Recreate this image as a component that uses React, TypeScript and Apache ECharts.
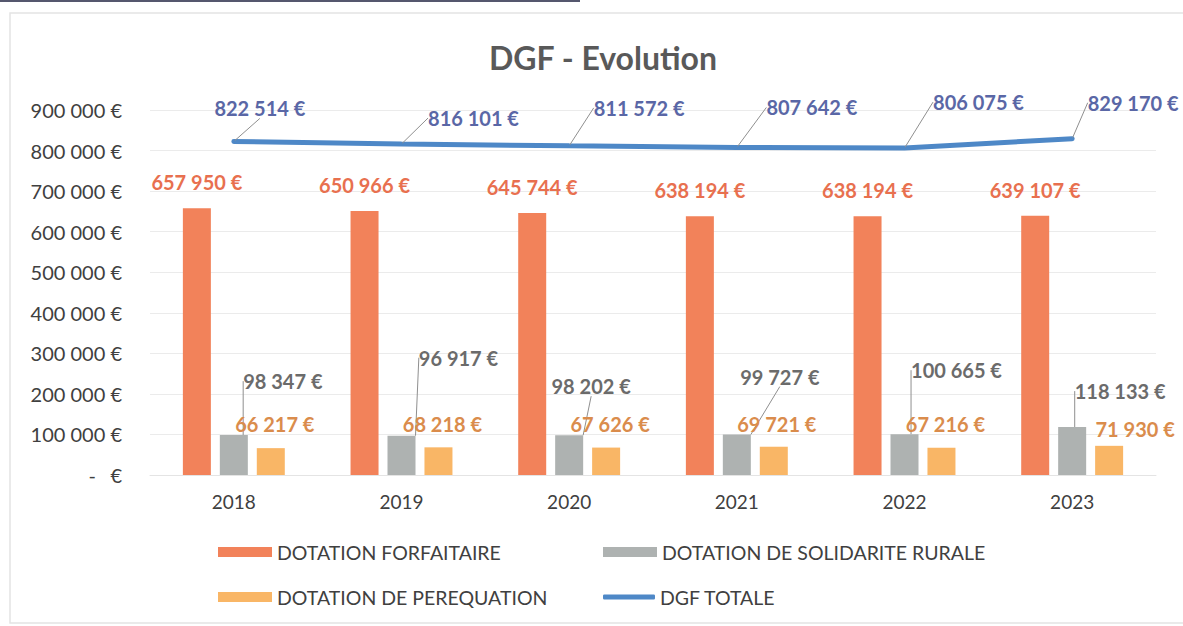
import React, { useEffect, useRef } from "react";
import * as echarts from "echarts";

const years = ["2018", "2019", "2020", "2021", "2022", "2023"];
const forfaitaire = [657950, 650966, 645744, 638194, 638194, 639107];
const solidarite = [98347, 96917, 98202, 99727, 100665, 118133];
const perequation = [66217, 68218, 67626, 69721, 67216, 71930];
const dgfTotale = [822514, 816101, 811572, 807642, 806075, 829170];
const yTicks = [0, 100000, 200000, 300000, 400000, 500000, 600000, 700000, 800000, 900000];

const NAMES = {
  f: "DOTATION FORFAITAIRE",
  s: "DOTATION DE SOLIDARITE RURALE",
  p: "DOTATION DE PEREQUATION",
  t: "DGF TOTALE",
};

// label offsets (style only)
const totalOffsets = [
  [26, -17], [72, -10], [70, -22], [75, -24], [74, -30], [61, -20],
];
const solidOffsets = [
  [49, -39], [57, -63], [22, -34], [43, -43], [52, -49], [48, -21],
];
const perOffsets = [
  [4, -9], [4, -8], [4, -9], [3, -8], [4, -9], [26, -2],
];

const FONT = "Lato, 'Open Sans', sans-serif";

function fmt(n: number): string {
  return String(n).replace(/\B(?=(\d{3})+(?!\d))/g, " ") + " €";
}

export default function App() {
  const ref = useRef<HTMLDivElement>(null);

  useEffect(() => {
    if (!ref.current) return;
    const chart = echarts.init(ref.current, undefined, { renderer: "svg" });
    const leader = { show: true, lineStyle: { color: "#8f8f8f", width: 1 } };
    const legendText = { fontFamily: FONT, fontSize: 19.5, color: "#404040" };
    const legendBase = {
      orient: "horizontal",
      itemWidth: 54,
      itemHeight: 10,
      itemGap: 0,
      padding: 0,
      icon: "rect",
      textStyle: legendText,
    };
    const valueLabel = (color: string, distance: number) => ({
      show: true,
      position: "top",
      distance,
      formatter: (p: any) => fmt(p.value),
      fontFamily: FONT,
      fontSize: 20,
      fontWeight: "bold",
      color,
    });
    const option: any = {
      animation: false,
      backgroundColor: "#ffffff",
      textStyle: { fontFamily: FONT },
      title: {
        text: "DGF - Evolution",
        left: 484,
        top: 36,
        textStyle: { fontFamily: FONT, fontSize: 32, fontWeight: "bold", color: "#595959" },
      },
      graphic: [
        {
          type: "rect",
          shape: { x: 10, y: 13, width: 1200, height: 610 },
          style: { fill: "none", stroke: "#e4e4e4", lineWidth: 1.5 },
          silent: true,
        },
        {
          type: "line",
          shape: { x1: 0, y1: 1, x2: 580, y2: 1 },
          style: { stroke: "#55576e", lineWidth: 2 },
          silent: true,
        },
      ],
      legend: [
        { ...legendBase, data: [NAMES.f], left: 218, top: 542 },
        { ...legendBase, data: [NAMES.s], left: 603, top: 542 },
        { ...legendBase, data: [NAMES.p], left: 218, top: 587 },
        {
          ...legendBase,
          data: [NAMES.t],
          left: 603,
          top: 587,
          icon: "roundRect",
          itemWidth: 52,
          itemHeight: 5,
        },
      ],
      grid: { left: 150, right: 27, top: 110, bottom: 151, containLabel: false },
      xAxis: {
        type: "category",
        data: years,
        axisLine: { show: true, lineStyle: { color: "#e4e4e4" } },
        axisTick: { show: false },
        axisLabel: { margin: 17, fontFamily: FONT, fontSize: 19, color: "#404040" },
      },
      yAxis: {
        type: "value",
        min: yTicks[0],
        max: yTicks[yTicks.length - 1],
        interval: 100000,
        axisLine: { show: false },
        axisTick: { show: false },
        splitLine: { lineStyle: { color: "#ebebeb", width: 1 } },
        axisLabel: {
          margin: 28,
          fontFamily: FONT,
          fontSize: 20,
          color: "#404040",
          formatter: (v: number) => (v === 0 ? "{d|-}€" : fmt(v)),
          rich: {
            d: { width: 22, align: "left", fontFamily: FONT, fontSize: 20, color: "#404040" },
          },
        },
      },
      series: [
        {
          name: NAMES.f,
          type: "bar",
          data: forfaitaire,
          barWidth: 28,
          barGap: "32%",
          itemStyle: { color: "#F2825A" },
          label: valueLabel("#E8704F", 16),
        },
        {
          name: NAMES.s,
          type: "bar",
          data: solidarite,
          barWidth: 28,
          barGap: "32%",
          itemStyle: { color: "#AEB2B1" },
          label: valueLabel("#6b6b6b", 5),
          labelLine: leader,
          labelLayout: (p: any) => ({
            dx: solidOffsets[p.dataIndex][0],
            dy: solidOffsets[p.dataIndex][1],
            hideOverlap: false,
          }),
        },
        {
          name: NAMES.p,
          type: "bar",
          data: perequation,
          barWidth: 28,
          barGap: "32%",
          itemStyle: { color: "#F9B666" },
          label: valueLabel("#DA8C4C", 5),
          labelLayout: (p: any) => ({
            dx: perOffsets[p.dataIndex][0],
            dy: perOffsets[p.dataIndex][1],
            hideOverlap: false,
          }),
        },
        {
          name: NAMES.t,
          type: "line",
          data: dgfTotale,
          symbol: "circle",
          symbolSize: 2,
          showSymbol: true,
          lineStyle: { color: "#4E88C7", width: 5, cap: "round" },
          itemStyle: { color: "#4E88C7" },
          label: valueLabel("#5A67A6", 5),
          labelLine: leader,
          labelLayout: (p: any) => ({
            dx: totalOffsets[p.dataIndex][0],
            dy: totalOffsets[p.dataIndex][1],
            hideOverlap: false,
          }),
          z: 5,
        },
      ],
    };
    chart.setOption(option);
    return () => chart.dispose();
  }, []);

  return (
    <div
      ref={ref}
      style={{ position: "fixed", left: 0, top: 0, width: 1183, height: 626, background: "#fff" }}
    />
  );
}
